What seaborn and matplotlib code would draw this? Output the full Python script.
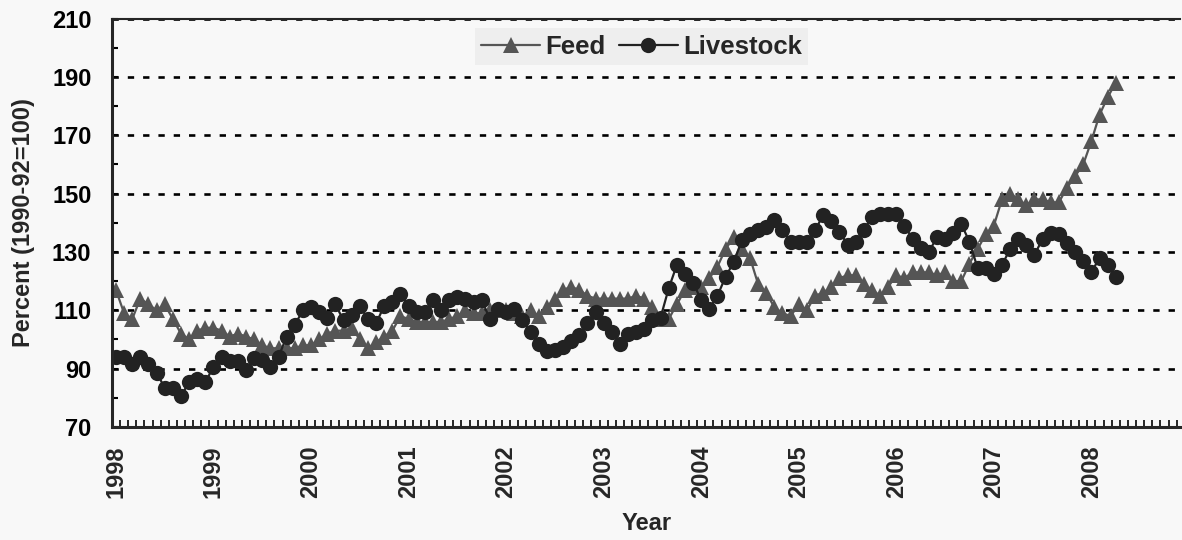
import numpy as np
import pandas as pd
import matplotlib
matplotlib.use('Agg')
import matplotlib.pyplot as plt
import seaborn as sns

# Monthly index values, Jan 1998 - Apr 2008 (1990-92=100)
feed = [117, 109, 107, 114, 112, 110, 112, 107, 102, 100, 103, 104,
        104, 103, 101, 102, 101, 100, 98, 97, 97, 97, 97, 98,
        98, 100, 102, 103, 103, 104, 100, 97, 99, 101, 103, 108,
        107, 106, 106, 106, 106, 107, 108, 110, 109, 109, 110, 110,
        110, 109, 108, 110, 108, 111, 114, 117, 118, 117, 115, 114,
        114, 114, 114, 114, 115, 114, 111, 107, 107, 112, 117, 118,
        118, 121, 125, 131, 135, 131, 128, 119, 116, 111, 109, 108,
        112, 110, 115, 116, 118, 121, 122, 122, 119, 117, 115, 118,
        122, 121, 123, 123, 123, 122, 123, 120, 120, 126, 131, 136,
        139, 148, 150, 148, 146, 148, 148, 147, 147, 152, 156, 160,
        168, 177, 183, 188]

livestock = [94, 94, 91.5, 94, 91.5, 88.5, 83.5, 83.5, 80.5, 85.5, 86.5, 85.5,
             90.5, 94, 92.5, 92.5, 89.5, 93.5, 93, 90.5, 94, 101, 105, 110,
             111, 109.5, 107.5, 112, 106.5, 108.5, 111.5, 107, 105.5, 111.5, 113, 115.5,
             111.5, 109.5, 109.5, 113.5, 110, 113.5, 114.5, 114, 113, 113.5, 107, 110.5,
             109.5, 110.5, 106.5, 102.5, 98.5, 96, 96.5, 97.5, 99.5, 101.5, 105.5, 109.5,
             105.5, 102.5, 98.5, 102, 102.5, 103.5, 106.5, 107.5, 117.5, 125.5, 122.5, 119.5,
             113.5, 110.5, 115, 121.5, 126.5, 134, 136, 137.5, 138.5, 141, 137.5, 133.5,
             133.5, 133.5, 137.5, 142.5, 140.5, 137, 132.5, 133.5, 137.5, 142, 143, 143,
             143, 139, 134.5, 131.5, 130, 135, 134.5, 136.5, 139.5, 133.5, 124.5, 124.5,
             122.5, 125.5, 131, 134.5, 132.5, 129, 134.5, 136.5, 136, 133, 130, 127,
             123, 128, 125.5, 121.5]

years = [str(y) for y in range(1998, 2009)]

bg = '#f8f8f8'
sns.set_style('ticks')
plt.rcParams['font.family'] = ['Liberation Sans', 'DejaVu Sans']
plt.rcParams['font.weight'] = 'bold'

n = len(feed)
df = pd.DataFrame({
    'month': list(range(n)) * 2,
    'value': feed + livestock,
    'series': ['Feed'] * n + ['Livestock'] * n,
})

fig = plt.figure(figsize=(11.82, 5.40), dpi=100, facecolor=bg)
ax = fig.add_axes([0.095, 0.2093, 0.9033, 0.7564])
ax.set_facecolor(bg)

sns.lineplot(data=df, x='month', y='value', hue='series', style='series',
             hue_order=['Feed', 'Livestock'],
             palette={'Feed': '#555555', 'Livestock': '#222222'},
             markers={'Feed': '^', 'Livestock': 'o'}, dashes=False,
             markersize=11, markeredgewidth=0, linewidth=1.6, ax=ax)

ax.set_xlim(-0.45, 130.9)
ax.set_ylim(70, 210)

# y axis
ax.set_yticks(np.arange(70, 211, 20))
ax.set_yticks(np.arange(80, 210, 20), minor=True)
ax.tick_params(axis='y', which='both', direction='in', length=4, width=1.5,
               labelsize=17, pad=15, colors='black')
ax.grid(axis='y', which='major', color='black', linewidth=1.9,
        linestyle=(0, (2.4, 3.4)))

# x axis: year labels centred on January, monthly ticks between points
ax.set_xticks(np.arange(0, 121, 12))
ax.set_xticklabels(years, rotation=90, fontsize=17, fontweight='bold')
ax.set_xticks(np.arange(0.5, 131, 1), minor=True)
ax.tick_params(axis='x', which='major', length=0, pad=13)
ax.tick_params(axis='x', which='minor', direction='in', length=5, width=1.4)

for lab in ax.get_yticklabels():
    lab.set_fontweight('bold')

ax.spines['left'].set_linewidth(2.2)
ax.spines['bottom'].set_linewidth(2.2)
ax.spines['top'].set_linewidth(1.5)
ax.spines['right'].set_visible(False)

ax.set_xlabel('Year', fontsize=17, fontweight='bold', labelpad=10)
ax.set_ylabel('Percent (1990-92=100)', fontsize=17, fontweight='bold', labelpad=12)

leg = ax.legend(loc='upper center', bbox_to_anchor=(0.5427, 0.948),
                bbox_transform=fig.transFigure, ncol=2, frameon=True,
                fancybox=False, prop={'size': 18.5, 'weight': 'bold'},
                handlelength=2.3, handletextpad=0.2, columnspacing=0.5,
                borderpad=0.25, borderaxespad=0)
leg.get_frame().set_facecolor('#eeeeee')
leg.get_frame().set_edgecolor('none')
leg.get_frame().set_alpha(1)

fig.savefig('out.png', dpi=100, facecolor=bg)
